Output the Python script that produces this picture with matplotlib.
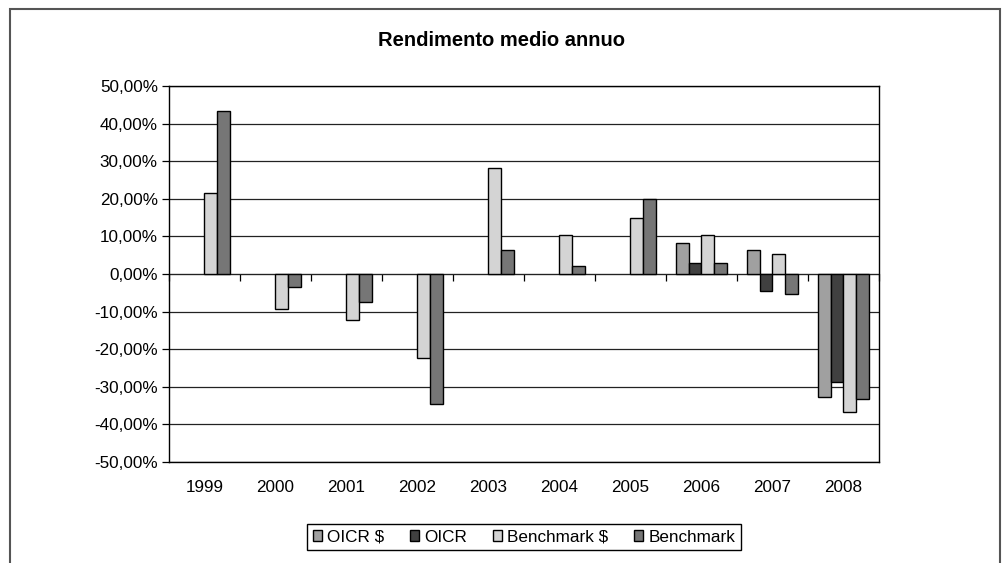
import matplotlib
matplotlib.use('Agg')
import matplotlib.pyplot as plt
import numpy as np
from matplotlib.patches import Rectangle
from matplotlib.ticker import FuncFormatter

years = ['1999', '2000', '2001', '2002', '2003', '2004', '2005', '2006', '2007', '2008']
series_names = ['OICR $', 'OICR', 'Benchmark $', 'Benchmark']
oicr_usd = [np.nan, np.nan, np.nan, np.nan, np.nan, np.nan, np.nan, 8.3, 6.4, -32.6]
oicr = [np.nan, np.nan, np.nan, np.nan, np.nan, np.nan, np.nan, 3.0, -4.5, -28.8]
bench_usd = [21.5, -9.4, -12.3, -22.4, 28.1, 10.3, 14.8, 10.5, 5.3, -36.6]
bench = [43.3, -3.5, -7.5, -34.5, 6.3, 2.2, 20.0, 3.0, -5.2, -33.3]
colors = ['#a0a0a0', '#404040', '#d4d4d4', '#767676']

plt.rcParams['font.family'] = ['Liberation Sans', 'DejaVu Sans']

fig = plt.figure(figsize=(10.04, 5.63), dpi=100)
# outer chart border (bottom edge falls off the image)
fig.patches.append(Rectangle((10 / 1004, -0.05), 990 / 1004, 1.05 - 9 / 563,
                             transform=fig.transFigure, fill=False,
                             edgecolor='#555555', linewidth=1.5))

ax = fig.add_axes([169 / 1004, 1 - 462 / 563, 710 / 1004, 376 / 563])
x = np.arange(len(years))
w = 0.178
for j, (vals, name, c) in enumerate(zip([oicr_usd, oicr, bench_usd, bench], series_names, colors)):
    ax.bar(x + (j - 1.5) * w, vals, width=w, color=c, edgecolor='black',
           linewidth=1.0, label=name, zorder=3)

ax.set_xlim(-0.5, len(years) - 0.5)
ax.set_ylim(-50, 50)
ax.set_yticks(np.arange(-50, 51, 10))
ax.yaxis.set_major_formatter(FuncFormatter(lambda v, p: f"{v:.2f}%".replace('.', ',')))
ax.grid(axis='y', color='#222222', linewidth=0.9, zorder=0)
ax.set_xticks(x)
ax.set_xticklabels(years)
ax.tick_params(axis='x', length=0, pad=13, labelsize=12.3)
ax.tick_params(axis='y', length=5, width=0.9, direction='out', labelsize=12.3, pad=3)
for s in ax.spines.values():
    s.set_linewidth(1.0)
    s.set_color('black')

# category boundary ticks on the zero line
sec = ax.secondary_xaxis(0.5)
sec.set_xticks(np.arange(-0.5, len(years), 1.0))
sec.tick_params(axis='x', length=5, width=0.9, direction='out', labelbottom=False,
                labeltop=False)
sec.spines['bottom'].set_visible(False)
sec.xaxis.set_ticks_position('bottom')
sec.set_xticklabels([])

fig.text(0.5, 1 - 40 / 563, 'Rendimento medio annuo', ha='center', va='center',
         fontsize=14.5, fontweight='bold')

leg = fig.legend(loc='center', bbox_to_anchor=(524 / 1004, 1 - 537 / 563), ncol=4,
                 frameon=True, fancybox=False, framealpha=1, edgecolor='black',
                 fontsize=12.3, handlelength=0.55, handleheight=0.55, handletextpad=0.3,
                 columnspacing=1.5, borderpad=0.3)
leg.get_frame().set_linewidth(1.0)

fig.savefig('out.png', dpi=100)
